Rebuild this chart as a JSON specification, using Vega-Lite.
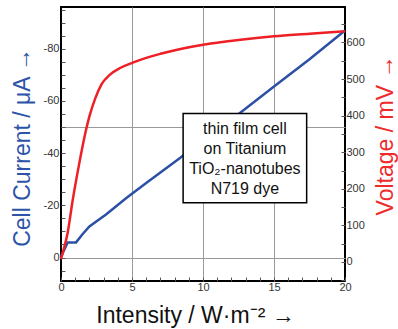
{
  "$schema": "https://vega.github.io/schema/vega-lite/v6.json",
  "width": 284,
  "height": 274,
  "autosize": {"type": "none"},
  "padding": {"left": 61, "top": 7, "right": 53, "bottom": 48},
  "background": "white",
  "config": {
    "view": {"stroke": "black", "strokeWidth": 2},
    "font": "Liberation Sans",
    "axis": {
      "labelFont": "Liberation Sans",
      "labelFontSize": 11,
      "labelColor": "#333333",
      "tickColor": "#555555",
      "tickWidth": 1,
      "domain": false,
      "grid": false,
      "gridColor": "#999999",
      "gridWidth": 1,
      "titleFont": "Liberation Sans",
      "titleFontSize": 23,
      "titleFontWeight": "normal"
    }
  },
  "layer": [
    {
      "layer": [
        {
          "data": {"values": [
            {"x": 0, "current": -0.3},
            {"x": 0.47, "current": -5.8},
            {"x": 1.06, "current": -5.8},
            {"x": 1.5, "current": -8.8},
            {"x": 2.0, "current": -11.9},
            {"x": 3.17, "current": -16.5},
            {"x": 4.58, "current": -22.7},
            {"x": 6.0, "current": -28.6},
            {"x": 8.38, "current": -38.1},
            {"x": 10.0, "current": -45.0},
            {"x": 12.6, "current": -55.4},
            {"x": 15.0, "current": -65.5},
            {"x": 17.5, "current": -76.0},
            {"x": 20.0, "current": -87.0}
          ]},
          "mark": {"type": "line", "color": "#2b50a6", "strokeWidth": 2.5},
          "encoding": {
            "x": {"field": "x", "type": "quantitative", "scale": {"domain": [0, 20], "nice": false, "zero": false},
              "axis": {"orient": "bottom", "values": [0,1,2,3,4,5,6,7,8,9,10,11,12,13,14,15,16,17,18,19,20], "labelExpr": "datum.value % 5 == 0 ? '' + datum.value : ''", "tickSize": -4, "labelPadding": 4, "labelFlush": false, "grid": true, "gridOpacity": {"condition": {"test": "datum.value == 5 || datum.value == 10 || datum.value == 15", "value": 1}, "value": 0}, "title": "Intensity / W·m⁻²  →", "titleColor": "#111111", "titleX": 134, "titleY": 34, "titleBaseline": "middle", "titleAnchor": "middle"}},
            "y": {"field": "current", "type": "quantitative", "scale": {"domain": [-96, 9], "reverse": true, "nice": false, "zero": false},
              "axis": {"orient": "left", "values": [-95,-90,-85,-80,-75,-70,-65,-60,-55,-50,-45,-40,-35,-30,-25,-20,-15,-10,-5,0,5], "labelExpr": "datum.value % 20 == 0 ? '' + datum.value : ''", "tickSize": -4, "labelPadding": 6, "labelFlush": false, "grid": true, "gridOpacity": {"condition": {"test": "datum.value == 0 || datum.value == -50", "value": 1}, "value": 0}, "title": "Cell Current / μA →", "titleColor": "#2d54a8", "titleX": -39, "titleY": 140, "titleBaseline": "middle", "titleAngle": -90, "titleAnchor": "middle"}}
          }
        },
        {
          "data": {"values": [{"x": 8.6, "x2": 17.3, "current": -55.2, "current2": -21.0}]},
          "mark": {"type": "rect", "fill": "white", "stroke": "black", "strokeWidth": 1.5},
          "encoding": {
            "x": {"field": "x", "type": "quantitative", "scale": {"domain": [0, 20], "nice": false, "zero": false},
              "axis": {"orient": "bottom", "values": [0,1,2,3,4,5,6,7,8,9,10,11,12,13,14,15,16,17,18,19,20], "labelExpr": "datum.value % 5 == 0 ? '' + datum.value : ''", "tickSize": -4, "labelPadding": 4, "labelFlush": false, "grid": true, "gridOpacity": {"condition": {"test": "datum.value == 5 || datum.value == 10 || datum.value == 15", "value": 1}, "value": 0}, "title": "Intensity / W·m⁻²  →", "titleColor": "#111111", "titleX": 134, "titleY": 34, "titleBaseline": "middle", "titleAnchor": "middle"}},
            "x2": {"field": "x2"},
            "y": {"field": "current", "type": "quantitative", "scale": {"domain": [-96, 9], "reverse": true, "nice": false, "zero": false},
              "axis": {"orient": "left", "values": [-95,-90,-85,-80,-75,-70,-65,-60,-55,-50,-45,-40,-35,-30,-25,-20,-15,-10,-5,0,5], "labelExpr": "datum.value % 20 == 0 ? '' + datum.value : ''", "tickSize": -4, "labelPadding": 6, "labelFlush": false, "grid": true, "gridOpacity": {"condition": {"test": "datum.value == 0 || datum.value == -50", "value": 1}, "value": 0}, "title": "Cell Current / μA →", "titleColor": "#2d54a8", "titleX": -39, "titleY": 140, "titleBaseline": "middle", "titleAngle": -90, "titleAnchor": "middle"}},
            "y2": {"field": "current2"}
          }
        },
        {
          "data": {"values": [{"x": 12.95, "current": -49.4, "label": "thin film cell\non Titanium\nTiO₂-nanotubes\nN719 dye"}]},
          "mark": {"type": "text", "font": "Liberation Sans", "fontSize": 16, "color": "#111111", "lineBreak": "\n", "lineHeight": 20, "align": "center", "baseline": "middle"},
          "encoding": {
            "x": {"field": "x", "type": "quantitative", "scale": {"domain": [0, 20], "nice": false, "zero": false},
              "axis": {"orient": "bottom", "values": [0,1,2,3,4,5,6,7,8,9,10,11,12,13,14,15,16,17,18,19,20], "labelExpr": "datum.value % 5 == 0 ? '' + datum.value : ''", "tickSize": -4, "labelPadding": 4, "labelFlush": false, "grid": true, "gridOpacity": {"condition": {"test": "datum.value == 5 || datum.value == 10 || datum.value == 15", "value": 1}, "value": 0}, "title": "Intensity / W·m⁻²  →", "titleColor": "#111111", "titleX": 134, "titleY": 34, "titleBaseline": "middle", "titleAnchor": "middle"}},
            "y": {"field": "current", "type": "quantitative", "scale": {"domain": [-96, 9], "reverse": true, "nice": false, "zero": false},
              "axis": {"orient": "left", "values": [-95,-90,-85,-80,-75,-70,-65,-60,-55,-50,-45,-40,-35,-30,-25,-20,-15,-10,-5,0,5], "labelExpr": "datum.value % 20 == 0 ? '' + datum.value : ''", "tickSize": -4, "labelPadding": 6, "labelFlush": false, "grid": true, "gridOpacity": {"condition": {"test": "datum.value == 0 || datum.value == -50", "value": 1}, "value": 0}, "title": "Cell Current / μA →", "titleColor": "#2d54a8", "titleX": -39, "titleY": 140, "titleBaseline": "middle", "titleAngle": -90, "titleAnchor": "middle"}},
            "text": {"field": "label"}
          }
        }
      ]
    },
    {
      "data": {"values": [
        {"x": 0, "voltage": 8},
        {"x": 0.12, "voltage": 25},
        {"x": 0.47, "voltage": 80},
        {"x": 0.82, "voltage": 168},
        {"x": 1.25, "voltage": 262},
        {"x": 1.71, "voltage": 352},
        {"x": 2.0, "voltage": 398},
        {"x": 2.4, "voltage": 446},
        {"x": 2.86, "voltage": 486},
        {"x": 3.45, "voltage": 512},
        {"x": 4.2, "voltage": 531},
        {"x": 5.05, "voltage": 545},
        {"x": 6.0, "voltage": 558},
        {"x": 7.0, "voltage": 569},
        {"x": 8.5, "voltage": 583},
        {"x": 10.0, "voltage": 594},
        {"x": 12.5, "voltage": 607},
        {"x": 15.0, "voltage": 617},
        {"x": 17.5, "voltage": 624},
        {"x": 20.0, "voltage": 631}
      ]},
      "mark": {"type": "line", "color": "#ee2026", "strokeWidth": 2.5, "interpolate": "monotone"},
      "encoding": {
        "x": {"field": "x", "type": "quantitative", "scale": {"domain": [0, 20], "nice": false, "zero": false},
          "axis": {"orient": "bottom", "values": [0,1,2,3,4,5,6,7,8,9,10,11,12,13,14,15,16,17,18,19,20], "labelExpr": "datum.value % 5 == 0 ? '' + datum.value : ''", "tickSize": -4, "labelPadding": 4, "labelFlush": false, "grid": true, "gridOpacity": {"condition": {"test": "datum.value == 5 || datum.value == 10 || datum.value == 15", "value": 1}, "value": 0}, "title": "Intensity / W·m⁻²  →", "titleColor": "#111111", "titleX": 134, "titleY": 34, "titleBaseline": "middle", "titleAnchor": "middle"}},
        "y": {
          "field": "voltage", "type": "quantitative",
          "scale": {"domain": [-52, 697], "nice": false, "zero": false},
          "axis": {"orient": "right", "values": [-50,0,50,100,150,200,250,300,350,400,450,500,550,600,650], "labelExpr": "datum.value % 100 == 0 ? '' + datum.value : ''", "tickSize": -4, "labelPadding": 5, "labelFlush": false, "grid": false, "title": "Voltage / mV →", "titleColor": "#ee2a2a", "titleX": 40, "titleY": 128, "titleBaseline": "middle", "titleAngle": -90, "titleAnchor": "middle"}
        }
      }
    }
  ],
  "resolve": {"scale": {"y": "independent"}}
}
